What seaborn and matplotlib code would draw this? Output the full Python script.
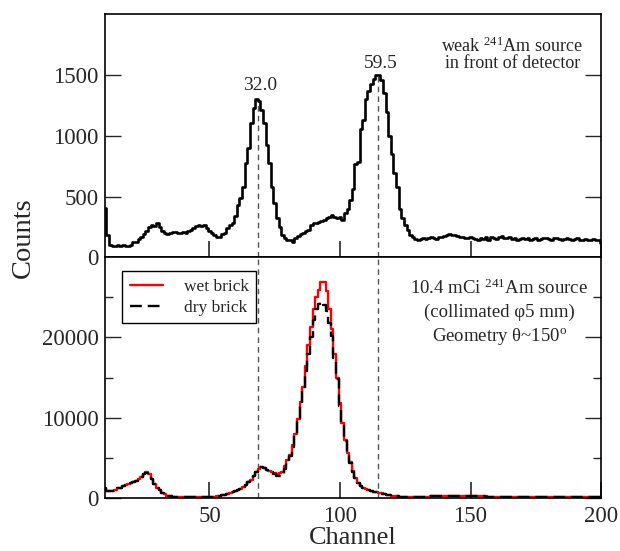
import numpy as np
import pandas as pd
import matplotlib
matplotlib.use("Agg")
import matplotlib.pyplot as plt
import seaborn as sns
from matplotlib.ticker import FixedLocator, NullLocator

# ---------------- data ----------------
channels = list(range(10, 201))

weak_counts = [
    410, 180, 100, 95, 95, 100, 95, 100, 95, 95,            # 10-19
    100, 125, 130, 150, 165, 190, 215, 250, 270, 260,       # 20-29
    280, 250, 215, 200, 195, 200, 210, 205, 200, 200,       # 30-39
    205, 200, 215, 225, 245, 260, 265, 260, 265, 240,       # 40-49
    215, 200, 180, 165, 170, 195, 200, 245, 265, 285,       # 50-59
    340, 430, 490, 580, 775, 900, 1105, 1230, 1300, 1290,   # 60-69
    1215, 1105, 925, 775, 580, 445, 320, 250, 185, 155,     # 70-79
    145, 140, 130, 155, 175, 190, 200, 215, 225, 265,       # 80-89
    285, 280, 290, 300, 305, 320, 330, 345, 335, 320,       # 90-99
    330, 310, 365, 400, 470, 560, 770, 785, 1060, 1130,     # 100-109
    1300, 1370, 1430, 1470, 1500, 1500, 1460, 1350, 1200, 1000,  # 110-119
    850, 690, 580, 400, 320, 265, 225, 185, 165, 150,       # 120-129
    145, 150, 155, 150, 160, 165, 160, 150, 165, 170,       # 130-139
    175, 185, 190, 185, 180, 175, 170, 165, 160, 155,       # 140-149
    165, 160, 150, 145, 160, 150, 165, 145, 170, 160,       # 150-159
    150, 165, 175, 160, 155, 165, 150, 155, 145, 150,       # 160-169
    155, 150, 160, 145, 150, 155, 140, 150, 160, 155,       # 170-179
    150, 145, 155, 160, 150, 140, 150, 155, 150, 145,       # 180-189
    150, 155, 145, 140, 150, 145, 140, 150, 145, 140,       # 190-199
    115,                                                    # 200
]

wet_counts = [
    1200, 850, 830, 850, 1000, 1200, 1300, 1500, 1650, 1800,      # 10-19
    1900, 2050, 2150, 2350, 2650, 3000, 3200, 3000, 2400, 1800,   # 20-29
    1300, 950, 650, 450, 300, 200, 150, 120, 100, 90,             # 30-39
    80, 80, 80, 70, 70, 80, 70, 80, 90, 100,                      # 40-49
    130, 150, 180, 220, 280, 350, 420, 500, 600, 720,             # 50-59
    850, 1000, 1150, 1400, 1650, 1950, 2300, 2750, 3200, 3600,    # 60-69
    3800, 3750, 3500, 3350, 3300, 3100, 3050, 3100, 3300, 4000,   # 70-79
    4700, 5400, 6600, 8000, 9900, 12000, 13800, 16500, 19000, 21300,  # 80-89
    23600, 25000, 25900, 26900, 26900, 25800, 23500, 21000, 18000, 15000,  # 90-99
    11800, 9300, 7200, 5600, 4500, 3400, 2500, 1900, 1500, 1250,  # 100-109
    1100, 950, 850, 780, 700, 620, 560, 500, 430, 370,            # 110-119
    310, 260, 220, 180, 150, 130, 120, 110, 100, 100,             # 120-129
    110, 120, 130, 150, 170, 200, 230, 250, 270, 280,             # 130-139
    290, 300, 300, 295, 290, 285, 280, 270, 260, 250,             # 140-149
    240, 230, 220, 210, 200, 195, 190, 185, 180, 175,             # 150-159
    170, 165, 160, 160, 155, 150, 150, 145, 140, 140,             # 160-169
    135, 130, 130, 125, 125, 120, 120, 115, 115, 110,             # 170-179
    110, 105, 110, 100, 105, 95, 100, 105, 90, 100,               # 180-189
    95, 110, 85, 100, 90, 95, 105, 80, 100, 90,                   # 190-199
    95,                                                           # 200
]

dry_counts = [
    1200, 850, 830, 850, 1000, 1200, 1300, 1500, 1650, 1800,      # 10-19
    1900, 2050, 2150, 2350, 2650, 2950, 3150, 2950, 2400, 1800,   # 20-29
    1300, 950, 650, 450, 300, 200, 150, 120, 100, 90,             # 30-39
    80, 80, 80, 70, 70, 80, 70, 80, 90, 100,                      # 40-49
    130, 150, 180, 220, 280, 350, 420, 500, 600, 720,             # 50-59
    850, 1000, 1150, 1400, 1650, 1950, 2300, 2750, 3200, 3600,    # 60-69
    3800, 3750, 3500, 3300, 3200, 2950, 2800, 2700, 2900, 3600,   # 70-79
    4400, 5200, 6300, 7700, 9500, 11500, 13300, 15800, 18000, 20000,  # 80-89
    22200, 23500, 24200, 24400, 24000, 23300, 21800, 20200, 17500, 14800,  # 90-99
    11500, 9200, 7100, 5500, 4400, 3300, 2450, 1850, 1450, 1220,  # 100-109
    1080, 940, 840, 770, 690, 610, 550, 490, 420, 360,            # 110-119
    300, 250, 210, 175, 145, 125, 115, 105, 100, 100,             # 120-129
    105, 115, 125, 145, 165, 195, 225, 245, 265, 275,             # 130-139
    285, 295, 295, 290, 285, 280, 275, 265, 255, 245,             # 140-149
    235, 225, 215, 205, 195, 190, 185, 180, 175, 170,             # 150-159
    165, 160, 155, 155, 150, 145, 145, 140, 135, 135,             # 160-169
    130, 125, 125, 120, 120, 115, 115, 110, 110, 105,             # 170-179
    105, 100, 105, 95, 100, 90, 95, 100, 85, 95,                  # 180-189
    90, 105, 80, 95, 85, 90, 100, 75, 95, 85,                     # 190-199
    90,                                                           # 200
]

peak_channels = [68.5, 114.6]
peak_heights = [1300, 1500]
peak_labels = ["32.0", "59.5"]

x_ticks = [50, 100, 150, 200]
top_yticks = [0, 500, 1000, 1500]
bot_yticks = [0, 10000, 20000]
bot_yminor = [5000, 15000, 25000]

# ---------------- style ----------------
sns.set_theme(style="ticks")
plt.rcParams["font.family"] = ["Liberation Serif", "DejaVu Serif"]
plt.rcParams["mathtext.fontset"] = "custom"
plt.rcParams["mathtext.rm"] = "Liberation Serif"
plt.rcParams["mathtext.it"] = "Liberation Serif:italic"
plt.rcParams["mathtext.bf"] = "Liberation Serif:bold"

fig = plt.figure(figsize=(6.2, 5.51), dpi=100)
fig.patch.set_facecolor("white")
ax1 = fig.add_axes([0.1694, 0.533, 0.8, 0.441])
ax2 = fig.add_axes([0.1694, 0.0962, 0.8, 0.437])

top_df = pd.DataFrame({"Channel": channels, "Counts": weak_counts})
bot_df = pd.DataFrame({"Channel": channels, "wet": wet_counts, "dry": dry_counts})

# top panel
sns.lineplot(data=top_df, x="Channel", y="Counts", ax=ax1, color="black",
             lw=1.9, drawstyle="steps-mid", estimator=None)
# bottom panel
sns.lineplot(data=bot_df, x="Channel", y="wet", ax=ax2, color="red",
             lw=1.7, drawstyle="steps-mid", estimator=None, label="wet brick")
sns.lineplot(data=bot_df, x="Channel", y="dry", ax=ax2, color="black",
             lw=1.7, drawstyle="steps-mid", estimator=None, label="dry brick",
             dashes=False)
ax2.lines[-1].set_dashes([5, 2.5])

# dashed marker lines
for pc, ph, pl in zip(peak_channels, peak_heights, peak_labels):
    ax1.vlines(pc, 0, ph, colors="#555555", linestyles=(0, (4, 3)), lw=1.0, zorder=1)
    ax2.axvline(pc, color="#555555", ls=(0, (4, 3)), lw=1.0, zorder=1)

ax1.text(69.5, 1378, "32.0", ha="center", va="baseline", fontsize=14)
ax1.text(115.5, 1557, "59.5", ha="center", va="baseline", fontsize=14)
ax1.text(166, 1692, "weak $^{241}$Am source", ha="center", va="baseline", fontsize=13)
ax1.text(166, 1560, "in front of detector", ha="center", va="baseline", fontsize=13)

ax2.text(161, 25375, "10.4 mCi $^{241}$Am source", ha="center", va="baseline", fontsize=13.5)
ax2.text(161, 22500, "(collimated \u03c65 mm)", ha="center", va="baseline", fontsize=13.5)
ax2.text(161, 19500, "Geometry \u03b8~150$^{\\mathrm{o}}$", ha="center", va="baseline", fontsize=13.5)

# axes formatting
for ax in (ax1, ax2):
    ax.set_xlim(10, 200)
    ax.xaxis.set_major_locator(FixedLocator(x_ticks))
    ax.xaxis.set_minor_locator(NullLocator())
    ax.tick_params(axis="x", which="major", direction="in", length=11.5, width=1.2,
                   top=False, bottom=True, labelsize=16.5, pad=6)
    ax.tick_params(axis="y", which="major", direction="in", length=11.5, width=1.0,
                   left=True, right=True, labelsize=16.5, pad=4.5)
    ax.tick_params(axis="y", which="minor", direction="in", length=5.8, width=1.0,
                   left=True, right=True)
    for s in ax.spines.values():
        s.set_visible(True)
        s.set_color("black")
        s.set_linewidth(1.2)
    ax.set_ylabel("")
    ax.set_xlabel("")

ax1.set_ylim(0, 2000)
ax1.yaxis.set_major_locator(FixedLocator(top_yticks))
ax1.yaxis.set_minor_locator(NullLocator())
ax1.tick_params(axis="x", labelbottom=False)

ax2.set_ylim(0, 30000)
ax2.yaxis.set_major_locator(FixedLocator(bot_yticks))
ax2.yaxis.set_minor_locator(FixedLocator(bot_yminor))
ax2.set_xlabel("Channel", fontsize=19, labelpad=0)

fig.text(23 / 620, 1 - 238 / 551, "Counts", rotation=90, ha="center", va="center",
         fontsize=20.5)

leg = ax2.legend(loc="upper left", bbox_to_anchor=(0.034, 0.942), borderaxespad=0,
                 fontsize=12.5, frameon=True, fancybox=False, framealpha=1,
                 edgecolor="black", handlelength=1.9, handletextpad=1.2,
                 labelspacing=0.25, borderpad=0.45)
leg.get_frame().set_linewidth(1.0)

fig.savefig("out.png", dpi=100, facecolor="white")
